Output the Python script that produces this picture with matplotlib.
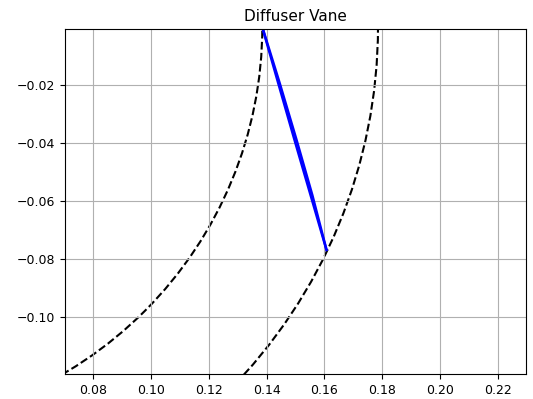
import matplotlib
matplotlib.use("Agg")
from matplotlib import pyplot as plt
from matplotlib.patches import Circle

# diffuser radii (m)
r_inlet = 0.1385
r_outlet = 0.1785

# vane surfaces (x, y)
side1_x = [0.1385, 0.1440, 0.1496, 0.1552, 0.1607]
side1_y = [0.0000, -0.0193, -0.0388, -0.0580, -0.0769]
side2_x = [0.1385, 0.1445, 0.1503, 0.1558, 0.1607]
side2_y = [0.0000, -0.0193, -0.0388, -0.0580, -0.0769]

fig = plt.figure(figsize=(5.33, 3.99), dpi=100)
ax = fig.add_axes([0.122, 0.063, 0.865, 0.864])

for r in [r_inlet, r_outlet]:
    ax.add_patch(Circle((0, 0), r, fill=False, edgecolor='black', linestyle='--', linewidth=1.5))

ax.plot(side1_x, side1_y, color='blue', linewidth=1.8)
ax.plot(side2_x, side2_y, color='blue', linewidth=1.8)

ax.set_xlim(0.0703, 0.2297)
ax.set_ylim(-0.1197, -0.0007)
ax.set_xticks([0.08, 0.10, 0.12, 0.14, 0.16, 0.18, 0.20, 0.22])
ax.set_yticks([-0.02, -0.04, -0.06, -0.08, -0.10])
ax.tick_params(labelsize=9)
ax.grid(True)
ax.set_title('Diffuser Vane', fontsize=11)

fig.savefig('out.png', dpi=100)
